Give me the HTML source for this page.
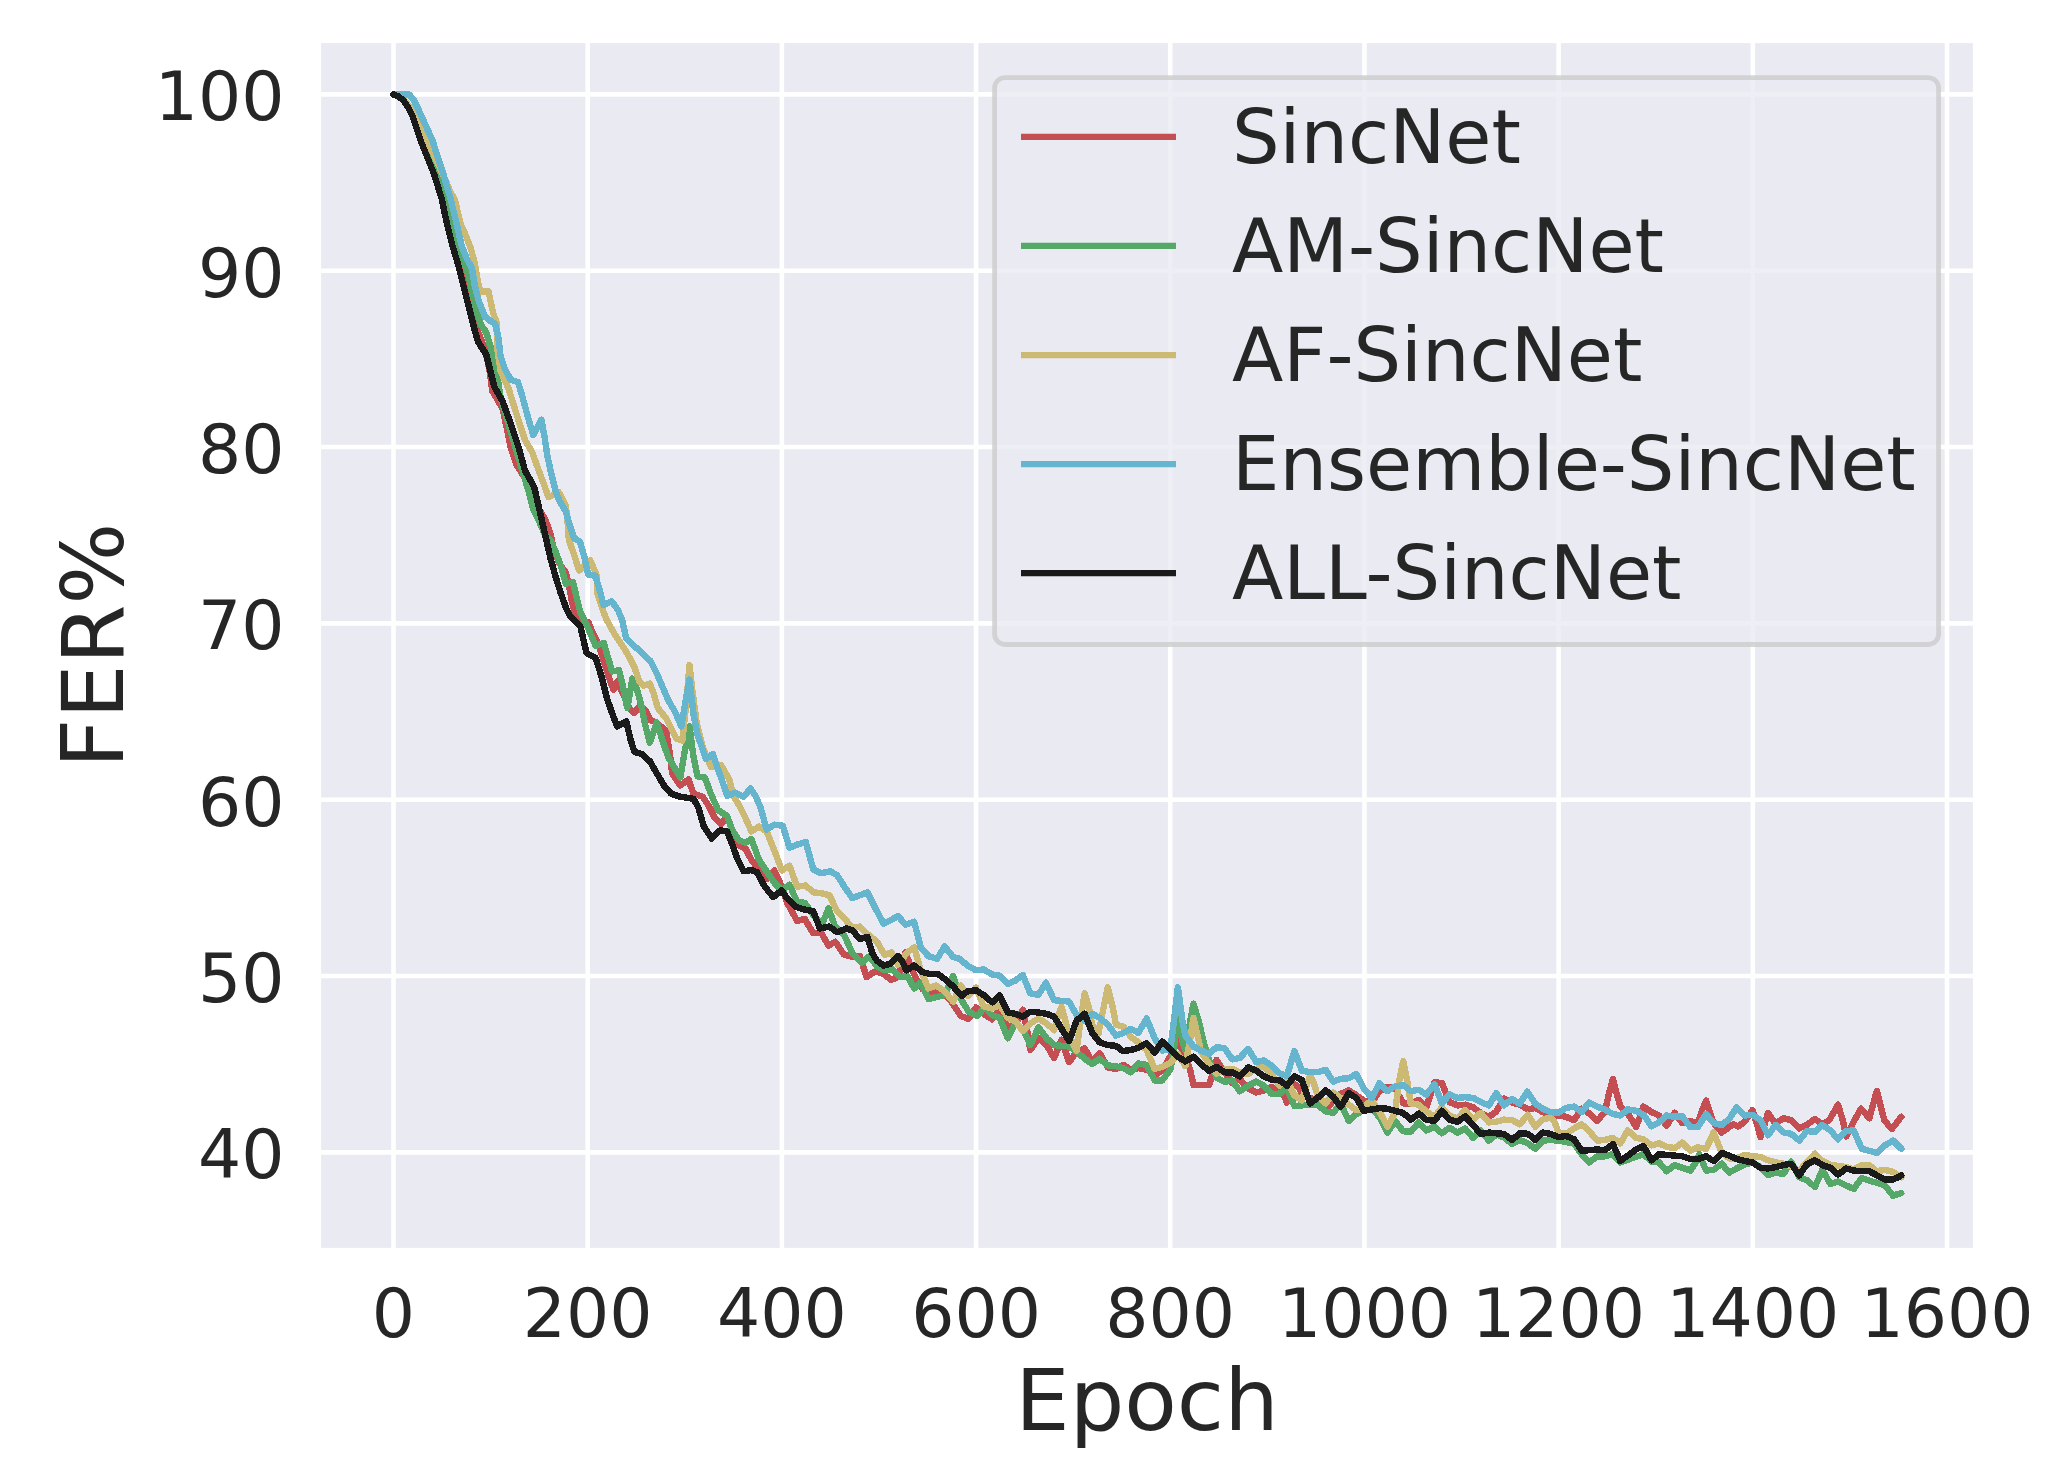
<!DOCTYPE html>
<html lang="en"><head><meta charset="utf-8"><title>FER% vs Epoch</title>
<style>
html,body{margin:0;padding:0;background:#fff;}
body{width:2069px;height:1471px;overflow:hidden;}
svg{display:block;}
text{font-family:"DejaVu Sans","Liberation Sans",sans-serif;fill:#262626;}
.tick{font-size:68px;}
.leg{font-size:75px;}
.lab{font-size:86px;}
.ln{shape-rendering:crispEdges;fill:none;stroke-width:6.45;stroke-linejoin:round;stroke-linecap:round;}
.hl{fill:none;stroke-width:6.25;stroke-linecap:butt;}
</style></head><body>
<svg width="2069" height="1471" viewBox="0 0 2069 1471">
<rect x="0" y="0" width="2069" height="1471" fill="#ffffff"/>
<rect x="321.1" y="43.1" width="1651.8" height="1204.8" fill="#eaeaf2"/>
<g stroke="#ffffff" stroke-width="4.6" stroke-linecap="butt">
<line x1="393.50" y1="43.1" x2="393.50" y2="1247.9"/>
<line x1="587.69" y1="43.1" x2="587.69" y2="1247.9"/>
<line x1="781.88" y1="43.1" x2="781.88" y2="1247.9"/>
<line x1="976.06" y1="43.1" x2="976.06" y2="1247.9"/>
<line x1="1170.25" y1="43.1" x2="1170.25" y2="1247.9"/>
<line x1="1364.44" y1="43.1" x2="1364.44" y2="1247.9"/>
<line x1="1558.62" y1="43.1" x2="1558.62" y2="1247.9"/>
<line x1="1752.81" y1="43.1" x2="1752.81" y2="1247.9"/>
<line x1="1947.00" y1="43.1" x2="1947.00" y2="1247.9"/>
<line x1="321.1" y1="1152.40" x2="1972.9" y2="1152.40"/>
<line x1="321.1" y1="976.07" x2="1972.9" y2="976.07"/>
<line x1="321.1" y1="799.73" x2="1972.9" y2="799.73"/>
<line x1="321.1" y1="623.40" x2="1972.9" y2="623.40"/>
<line x1="321.1" y1="447.07" x2="1972.9" y2="447.07"/>
<line x1="321.1" y1="270.73" x2="1972.9" y2="270.73"/>
<line x1="321.1" y1="94.40" x2="1972.9" y2="94.40"/>
</g>
<g class="tick" text-anchor="middle">
<text x="393.50" y="1336.5">0</text>
<text x="587.69" y="1336.5">200</text>
<text x="781.88" y="1336.5">400</text>
<text x="976.06" y="1336.5">600</text>
<text x="1170.25" y="1336.5">800</text>
<text x="1364.44" y="1336.5">1000</text>
<text x="1558.62" y="1336.5">1200</text>
<text x="1752.81" y="1336.5">1400</text>
<text x="1947.00" y="1336.5">1600</text>
</g>
<g class="tick" text-anchor="end">
<text x="284.5" y="1178.20">40</text>
<text x="284.5" y="1001.87">50</text>
<text x="284.5" y="825.53">60</text>
<text x="284.5" y="649.20">70</text>
<text x="284.5" y="472.87">80</text>
<text x="284.5" y="296.53">90</text>
<text x="284.5" y="120.20">100</text>
</g>
<text class="lab" text-anchor="middle" x="1147" y="1430">Epoch</text>
<text class="lab" text-anchor="middle" transform="translate(123,645.5) rotate(-90)">FER%</text>
<clipPath id="ax"><rect x="321.1" y="43.1" width="1651.8" height="1204.8"/></clipPath>
<g clip-path="url(#ax)">
<path class="ln" stroke="#c44e52" d="M393.5 94.5 L398.5 96.5 L404.0 101.0 L409.3 108.0 L413.6 116.5 L418.0 128.5 L422.5 141.5 L426.5 150.0 L437.6 174.5 L444.5 198.9 L449.0 224.0 L454.0 245.4 L460.3 265.8 L465.5 286.2 L470.8 306.5 L476.2 326.9 L480.5 338.0 L485.3 350.4 L489.6 370.8 L492.4 391.2 L502.6 408.5 L506.3 425.8 L510.8 448.2 L516.3 464.6 L526.1 479.8 L532.0 493.1 L538.1 507.4 L545.8 520.6 L550.7 534.9 L554.0 551.2 L559.3 563.4 L565.8 572.6 L568.9 584.8 L571.9 601.2 L575.0 613.4 L578.3 618.3 L588.5 622.4 L592.6 632.6 L597.7 642.8 L601.8 655.0 L608.9 677.5 L613.4 689.7 L617.1 681.5 L623.2 693.8 L629.3 708.1 L634.4 713.1 L639.5 706.0 L645.6 710.1 L650.7 720.3 L655.8 722.3 L666.0 730.5 L670.1 754.9 L672.1 773.3 L680.3 785.5 L688.4 779.4 L693.5 793.7 L702.7 796.7 L708.8 805.9 L714.9 818.1 L721.1 824.3 L727.2 816.1 L737.4 844.6 L745.5 848.7 L751.4 859.9 L759.0 869.5 L766.6 879.0 L774.3 870.4 L780.9 884.7 L787.6 903.7 L797.1 920.8 L804.7 918.9 L813.3 933.2 L820.9 932.3 L828.5 945.6 L835.2 941.8 L843.7 954.2 L852.3 957.0 L859.9 956.1 L866.6 977.0 L875.1 971.3 L883.7 974.1 L891.3 979.9 L898.0 977.0 L901.8 962.7 L905.6 952.3 L911.3 968.4 L917.0 979.9 L922.7 989.4 L930.3 993.2 L939.9 989.4 L949.4 998.9 L957.0 1010.3 L960.8 1016.0 L968.4 1018.9 L976.0 1007.5 L985.5 1015.1 L992.2 1019.3 L999.7 1008.4 L1007.9 1027.4 L1015.4 1024.7 L1022.8 1009.8 L1026.9 1028.8 L1030.3 1049.9 L1038.5 1038.3 L1046.6 1045.1 L1054.1 1058.0 L1061.6 1039.7 L1069.1 1062.1 L1076.6 1051.9 L1084.7 1048.5 L1092.2 1061.4 L1099.7 1053.3 L1107.8 1067.5 L1116.0 1068.9 L1123.5 1064.8 L1130.9 1069.6 L1138.4 1068.2 L1146.6 1069.6 L1154.7 1075.0 L1162.2 1070.9 L1170.4 1056.0 L1177.9 1041.0 L1185.3 1057.3 L1190.1 1069.6 L1193.5 1085.2 L1201.0 1085.2 L1209.1 1085.2 L1216.6 1060.1 L1224.8 1072.3 L1232.3 1083.2 L1239.7 1079.1 L1248.2 1088.4 L1256.3 1092.5 L1263.8 1090.4 L1271.3 1087.0 L1275.4 1088.4 L1279.4 1087.0 L1282.8 1092.5 L1286.9 1102.7 L1290.3 1092.5 L1294.4 1084.3 L1298.5 1087.0 L1301.9 1093.8 L1310.0 1097.9 L1317.5 1100.0 L1325.7 1104.0 L1329.1 1106.1 L1333.2 1100.6 L1340.6 1093.8 L1348.8 1090.4 L1356.3 1095.2 L1363.7 1100.6 L1371.9 1102.0 L1379.4 1091.1 L1387.5 1087.0 L1395.0 1088.4 L1403.2 1103.4 L1410.7 1103.4 L1418.8 1100.0 L1426.3 1107.4 L1434.5 1082.3 L1441.9 1083.0 L1449.4 1102.0 L1457.6 1105.4 L1465.1 1104.7 L1473.2 1107.4 L1480.7 1112.9 L1488.9 1116.9 L1496.3 1111.5 L1503.8 1098.6 L1512.2 1102.6 L1519.7 1104.6 L1527.9 1109.4 L1535.4 1108.0 L1542.8 1112.1 L1550.3 1114.8 L1558.5 1115.5 L1566.0 1116.8 L1574.1 1120.2 L1581.6 1108.7 L1589.1 1113.4 L1597.2 1120.9 L1604.7 1112.1 L1608.8 1094.4 L1612.9 1078.8 L1616.9 1094.4 L1620.3 1106.6 L1627.8 1113.4 L1636.0 1127.0 L1640.1 1116.2 L1643.5 1106.6 L1651.6 1112.1 L1659.1 1115.5 L1666.6 1125.7 L1674.7 1112.8 L1682.2 1123.0 L1690.4 1120.9 L1697.9 1123.6 L1701.9 1110.7 L1706.1 1100.5 L1713.6 1123.0 L1721.8 1132.5 L1729.2 1127.0 L1733.3 1124.3 L1738.1 1126.4 L1744.9 1121.6 L1752.4 1110.0 L1757.1 1124.3 L1760.5 1137.2 L1764.6 1124.3 L1768.0 1112.8 L1775.5 1123.6 L1783.6 1118.2 L1791.1 1120.2 L1799.3 1128.4 L1806.8 1125.0 L1814.9 1118.9 L1822.4 1124.3 L1829.2 1120.2 L1838.0 1104.6 L1842.8 1120.2 L1846.2 1136.6 L1853.7 1121.6 L1861.1 1108.7 L1869.3 1118.2 L1876.8 1091.0 L1884.3 1120.2 L1891.7 1129.1 L1896.5 1123.0 L1901.3 1116.8"/>
<path class="ln" stroke="#55a868" d="M393.5 94.5 L399.0 96.5 L404.5 101.0 L410.0 108.5 L414.5 117.0 L419.0 129.0 L423.5 142.0 L427.0 150.0 L437.0 174.5 L446.3 198.9 L452.0 224.0 L457.5 245.4 L463.6 260.7 L468.7 276.0 L472.8 296.4 L476.9 311.6 L481.0 324.9 L486.1 332.0 L490.4 346.3 L496.5 370.8 L500.6 397.3 L504.7 411.5 L510.8 431.9 L516.9 452.3 L523.0 472.7 L529.1 493.1 L533.2 509.4 L539.3 521.6 L545.4 535.9 L551.5 542.0 L556.6 554.3 L561.7 568.5 L565.8 583.8 L573.0 581.8 L577.0 599.1 L580.4 612.2 L586.5 624.5 L592.6 638.7 L595.7 645.9 L603.8 642.8 L607.9 657.1 L612.0 671.4 L619.1 670.3 L623.2 687.7 L627.3 708.1 L632.4 678.5 L636.5 687.7 L640.5 701.9 L644.6 722.3 L649.7 742.7 L656.8 722.3 L661.9 738.6 L668.1 757.0 L674.2 767.2 L680.3 777.4 L684.4 752.9 L689.5 726.4 L693.5 757.0 L697.6 776.4 L704.8 777.4 L710.9 793.7 L718.0 810.0 L727.2 816.1 L732.3 830.4 L739.4 840.6 L745.5 842.6 L751.4 839.0 L759.0 859.9 L766.6 871.4 L774.3 882.8 L781.9 890.4 L789.5 884.7 L797.1 901.8 L804.7 902.8 L813.3 915.1 L821.8 924.7 L828.5 908.5 L835.2 926.6 L844.7 936.1 L852.3 953.2 L861.8 962.7 L869.4 956.1 L877.0 966.5 L884.7 970.3 L892.3 969.4 L899.9 977.0 L907.5 976.0 L914.2 988.4 L920.8 982.7 L928.4 998.9 L937.0 997.0 L944.6 995.1 L953.2 976.0 L960.8 998.9 L968.4 1011.3 L977.0 1016.0 L984.6 1007.5 L992.2 1015.2 L999.7 1017.9 L1007.9 1038.3 L1015.4 1023.4 L1022.8 1028.8 L1030.3 1045.1 L1038.5 1027.4 L1046.6 1038.3 L1054.1 1045.1 L1061.6 1045.8 L1069.1 1046.5 L1076.6 1051.9 L1084.7 1058.7 L1092.2 1064.1 L1099.7 1058.7 L1107.8 1065.5 L1116.0 1066.2 L1123.5 1068.2 L1130.9 1072.3 L1138.4 1063.5 L1146.6 1064.8 L1154.7 1080.5 L1162.2 1080.5 L1170.4 1069.6 L1173.8 1049.2 L1177.9 1017.9 L1182.6 1042.4 L1185.3 1050.5 L1190.1 1022.0 L1193.5 1003.6 L1198.9 1022.0 L1204.4 1045.1 L1209.1 1060.1 L1216.6 1077.7 L1224.8 1081.8 L1232.3 1080.5 L1239.7 1091.3 L1248.2 1085.7 L1256.3 1081.6 L1263.8 1085.7 L1271.3 1093.8 L1279.4 1093.8 L1286.9 1088.4 L1294.4 1106.1 L1301.9 1105.4 L1310.0 1104.7 L1317.5 1104.7 L1325.7 1111.5 L1333.2 1112.9 L1340.6 1103.4 L1348.8 1121.0 L1356.3 1114.2 L1363.7 1110.2 L1371.9 1107.4 L1380.1 1118.3 L1387.5 1132.6 L1395.0 1121.0 L1403.2 1131.2 L1410.7 1131.9 L1418.8 1122.4 L1426.3 1130.5 L1434.5 1126.5 L1441.9 1133.3 L1449.4 1127.8 L1457.6 1132.6 L1465.1 1128.5 L1473.2 1138.0 L1480.7 1130.5 L1488.9 1140.7 L1496.3 1134.6 L1503.8 1137.3 L1512.2 1144.0 L1519.7 1140.0 L1527.9 1143.4 L1535.4 1148.8 L1542.8 1140.6 L1550.3 1140.0 L1558.5 1140.6 L1566.0 1142.0 L1574.1 1143.4 L1581.6 1154.2 L1589.1 1162.4 L1597.2 1156.3 L1604.7 1156.3 L1612.9 1154.2 L1620.3 1162.4 L1627.8 1159.7 L1636.0 1156.9 L1643.5 1154.2 L1651.6 1161.7 L1659.1 1162.4 L1666.6 1171.2 L1674.7 1165.1 L1682.2 1167.8 L1690.4 1170.5 L1695.8 1162.4 L1699.2 1154.2 L1706.1 1170.5 L1713.6 1169.9 L1721.8 1163.7 L1729.2 1172.6 L1736.7 1168.5 L1744.9 1164.4 L1752.4 1162.4 L1760.5 1167.1 L1768.0 1175.3 L1775.5 1172.6 L1783.6 1173.9 L1791.1 1161.7 L1799.3 1177.3 L1806.8 1180.1 L1814.9 1186.9 L1822.4 1169.9 L1830.5 1184.1 L1838.0 1181.4 L1846.2 1185.5 L1853.7 1188.9 L1861.8 1178.0 L1869.3 1180.7 L1876.8 1182.8 L1884.9 1185.5 L1893.1 1195.7 L1901.3 1193.0"/>
<path class="ln" stroke="#ccb974" d="M393.5 94.5 L400.0 97.0 L406.0 102.0 L412.0 110.0 L417.0 120.0 L422.0 132.0 L427.0 143.0 L431.6 150.0 L438.5 165.0 L445.7 180.6 L449.4 189.8 L455.2 200.8 L460.4 223.4 L465.7 235.2 L470.8 248.4 L474.9 263.7 L477.9 282.1 L480.5 292.3 L484.0 291.3 L488.6 291.3 L491.2 304.5 L494.2 316.7 L496.3 320.8 L497.5 350.4 L500.6 370.8 L508.7 389.1 L513.8 405.4 L518.9 421.7 L525.0 440.1 L532.2 452.3 L537.3 466.6 L543.4 482.9 L548.5 497.2 L558.7 492.1 L565.8 505.3 L567.9 525.7 L568.9 540.0 L574.0 554.3 L579.1 570.6 L590.3 560.4 L596.4 574.6 L597.4 593.0 L602.5 609.3 L606.9 620.4 L615.0 634.7 L623.2 646.9 L629.3 657.1 L634.4 667.3 L639.5 681.5 L643.6 685.6 L649.7 683.6 L653.8 693.8 L657.9 708.1 L666.0 718.2 L671.1 728.4 L676.2 738.6 L682.3 740.7 L686.4 701.9 L689.5 665.2 L692.5 691.7 L696.6 722.3 L702.7 746.8 L710.9 767.2 L721.1 765.1 L729.2 779.4 L733.3 795.7 L739.4 805.9 L745.5 818.1 L751.4 831.4 L759.0 826.6 L766.6 831.4 L774.3 850.4 L781.9 870.4 L789.5 865.7 L797.1 886.6 L805.7 885.6 L813.3 892.3 L821.8 893.3 L829.5 895.2 L837.1 911.3 L844.7 918.9 L852.3 927.5 L859.9 926.6 L867.5 934.2 L877.0 941.8 L884.7 955.1 L891.3 952.3 L898.0 964.6 L906.5 953.2 L914.2 947.5 L920.8 970.3 L928.4 988.4 L936.0 985.6 L944.6 991.3 L953.2 1001.7 L960.8 985.6 L968.4 996.0 L976.0 987.5 L983.6 1006.5 L992.2 1008.4 L999.7 1005.0 L1007.9 1017.9 L1015.4 1021.3 L1022.8 1030.8 L1030.3 1023.4 L1038.5 1018.6 L1046.6 1023.4 L1054.1 1030.2 L1058.2 1015.2 L1061.6 1007.0 L1065.7 1022.0 L1069.1 1035.6 L1076.6 1050.5 L1081.3 1015.2 L1084.7 993.4 L1088.8 1007.0 L1092.2 1024.7 L1098.3 1034.2 L1103.7 1007.0 L1107.8 987.3 L1112.6 1007.0 L1116.0 1024.7 L1123.5 1026.8 L1130.9 1036.9 L1138.4 1042.4 L1146.6 1049.9 L1154.7 1068.9 L1162.2 1066.9 L1170.4 1062.8 L1177.9 1053.9 L1185.3 1066.2 L1190.1 1039.7 L1193.5 1017.9 L1197.6 1035.6 L1201.0 1051.9 L1209.1 1064.1 L1216.6 1073.7 L1224.8 1069.6 L1232.3 1068.9 L1239.7 1072.3 L1248.2 1074.1 L1256.3 1068.7 L1263.8 1066.6 L1271.3 1074.1 L1279.4 1085.7 L1286.9 1080.2 L1294.4 1095.2 L1301.9 1100.6 L1306.0 1087.0 L1310.0 1075.5 L1313.4 1081.6 L1317.5 1095.2 L1325.7 1103.4 L1333.2 1092.5 L1340.6 1097.9 L1348.8 1104.7 L1356.3 1110.2 L1363.7 1108.8 L1367.8 1103.4 L1371.9 1100.6 L1380.1 1112.9 L1387.5 1126.5 L1395.0 1112.9 L1399.1 1081.6 L1403.2 1061.2 L1407.3 1081.6 L1410.7 1103.4 L1418.8 1104.7 L1426.3 1111.5 L1434.5 1116.9 L1441.9 1107.4 L1449.4 1115.6 L1457.6 1118.3 L1465.1 1110.2 L1473.2 1119.7 L1480.7 1112.9 L1488.9 1122.4 L1496.3 1121.7 L1503.8 1119.7 L1512.2 1120.2 L1519.7 1124.3 L1527.9 1114.8 L1535.4 1127.0 L1542.8 1119.6 L1550.3 1117.5 L1554.4 1121.6 L1558.5 1132.5 L1566.0 1133.8 L1574.1 1128.4 L1581.6 1124.3 L1589.1 1131.1 L1597.2 1140.6 L1604.7 1140.0 L1612.9 1137.9 L1620.3 1143.4 L1627.8 1130.4 L1636.0 1137.9 L1643.5 1139.3 L1651.6 1145.4 L1659.1 1143.4 L1666.6 1146.8 L1674.7 1148.1 L1682.2 1142.7 L1690.4 1150.8 L1697.9 1147.4 L1706.1 1148.8 L1713.6 1132.5 L1721.8 1152.9 L1729.2 1158.3 L1736.7 1158.3 L1744.9 1154.9 L1752.4 1156.3 L1760.5 1156.9 L1768.0 1160.3 L1775.5 1162.4 L1783.6 1163.7 L1791.1 1166.5 L1799.3 1170.5 L1806.8 1162.4 L1814.9 1153.6 L1822.4 1161.0 L1830.5 1165.1 L1838.0 1165.8 L1846.2 1167.1 L1853.7 1169.2 L1861.8 1165.1 L1869.3 1165.1 L1876.8 1171.2 L1884.9 1169.9 L1893.1 1171.9 L1901.3 1177.3"/>
<path class="ln" stroke="#64b5cd" d="M393.5 94.5 L409.4 94.7 L413.4 99.3 L417.5 107.4 L422.6 118.6 L427.7 129.9 L432.8 141.1 L435.3 150.0 L443.5 174.5 L450.6 198.9 L456.7 224.0 L461.6 245.4 L466.7 258.6 L471.8 267.8 L474.9 286.2 L478.9 301.5 L485.0 316.7 L490.1 320.8 L495.2 323.9 L498.3 337.1 L500.6 356.5 L504.7 368.7 L510.8 379.9 L517.9 382.0 L522.0 395.2 L528.1 417.7 L533.2 435.0 L541.4 419.7 L544.4 436.0 L547.5 456.4 L551.5 474.8 L555.6 491.1 L559.7 501.3 L565.8 511.4 L569.9 525.7 L574.0 538.0 L580.1 542.0 L584.2 556.3 L588.2 574.6 L595.4 575.7 L600.5 593.0 L603.5 605.2 L611.7 601.2 L618.1 610.2 L622.2 620.4 L626.3 638.7 L637.5 648.9 L650.7 661.2 L656.8 673.4 L661.9 685.6 L668.1 699.9 L675.2 712.1 L681.3 726.4 L685.4 701.9 L689.5 679.5 L693.5 714.2 L697.6 734.6 L705.8 759.0 L712.9 753.9 L718.0 769.2 L723.1 783.5 L727.2 795.7 L735.3 792.7 L743.5 796.7 L750.5 788.6 L756.2 797.1 L760.9 808.6 L766.6 829.5 L774.3 824.7 L782.8 825.7 L789.5 847.6 L797.1 844.7 L805.7 841.9 L813.3 869.5 L820.9 873.3 L830.4 871.4 L837.1 875.2 L845.6 888.5 L852.3 898.0 L859.9 895.2 L867.5 892.3 L877.0 911.3 L883.7 923.7 L891.3 919.9 L898.0 916.1 L905.6 924.7 L914.2 921.8 L920.8 947.5 L928.4 956.1 L937.0 958.9 L944.6 946.5 L953.2 957.0 L959.8 958.9 L967.5 965.6 L976.0 970.3 L983.6 969.4 L992.2 974.4 L999.7 975.8 L1007.9 983.9 L1015.4 980.5 L1022.8 975.1 L1030.3 993.4 L1038.5 994.8 L1046.0 982.6 L1054.1 1000.2 L1061.6 1000.9 L1069.1 1001.6 L1076.6 1015.2 L1084.7 1020.6 L1092.2 1013.8 L1099.7 1017.9 L1107.8 1024.7 L1116.0 1035.6 L1123.5 1032.9 L1130.9 1028.8 L1138.4 1032.9 L1146.6 1018.6 L1154.7 1038.3 L1162.2 1050.5 L1170.4 1049.2 L1173.8 1022.0 L1177.9 987.3 L1182.6 1022.0 L1185.3 1035.6 L1193.5 1046.5 L1201.0 1050.5 L1209.1 1053.9 L1216.6 1047.1 L1224.8 1048.5 L1232.3 1059.4 L1239.7 1058.0 L1248.2 1049.0 L1256.3 1061.9 L1263.8 1060.5 L1271.3 1065.3 L1279.4 1073.4 L1286.9 1076.2 L1294.4 1051.0 L1301.9 1070.7 L1310.0 1072.1 L1317.5 1072.1 L1325.7 1070.0 L1333.2 1081.6 L1340.6 1078.9 L1348.8 1078.2 L1356.3 1074.1 L1363.7 1088.4 L1371.9 1097.9 L1379.4 1083.0 L1387.5 1091.1 L1395.0 1086.4 L1403.2 1085.0 L1410.7 1091.1 L1418.8 1089.8 L1426.3 1094.5 L1434.5 1084.3 L1441.9 1103.4 L1449.4 1094.5 L1457.6 1097.9 L1465.1 1097.2 L1473.2 1097.9 L1480.7 1102.0 L1488.9 1105.4 L1496.3 1093.2 L1503.8 1105.4 L1512.2 1099.2 L1519.7 1103.9 L1527.2 1091.7 L1535.4 1103.9 L1542.8 1108.7 L1550.3 1112.1 L1558.5 1112.8 L1566.0 1108.0 L1574.1 1106.6 L1581.6 1112.1 L1589.1 1102.6 L1597.2 1106.6 L1604.7 1109.4 L1612.9 1114.1 L1620.3 1115.5 L1627.8 1109.4 L1636.0 1110.7 L1643.5 1114.8 L1651.6 1126.4 L1659.1 1122.3 L1666.6 1115.5 L1674.7 1116.8 L1682.2 1116.2 L1690.4 1127.0 L1697.9 1127.0 L1706.1 1114.1 L1713.6 1123.0 L1721.8 1125.0 L1729.2 1118.9 L1736.7 1107.3 L1744.9 1115.5 L1752.4 1114.8 L1760.5 1120.2 L1768.0 1135.2 L1775.5 1125.0 L1783.6 1132.5 L1791.1 1133.8 L1799.3 1140.6 L1806.8 1131.1 L1814.9 1131.8 L1822.4 1125.0 L1830.5 1130.4 L1838.0 1139.3 L1846.2 1131.1 L1853.7 1130.4 L1861.8 1148.8 L1869.3 1150.8 L1876.8 1152.9 L1884.9 1145.4 L1893.1 1140.6 L1901.3 1148.8"/>
<path class="ln" stroke="#1a1a1a" d="M393.5 94.5 L398.2 96.2 L403.3 100.3 L408.3 107.4 L412.4 115.6 L416.5 127.8 L420.8 141.0 L424.4 150.0 L434.2 174.5 L441.7 198.9 L447.0 224.0 L452.4 245.4 L458.5 265.8 L463.6 286.2 L468.7 306.5 L473.8 326.9 L478.2 342.2 L486.3 354.5 L490.4 370.8 L494.5 387.1 L502.6 401.4 L510.8 423.8 L518.9 448.2 L525.0 470.7 L534.2 487.0 L540.3 513.5 L545.4 535.9 L550.5 558.3 L555.6 576.7 L560.7 593.0 L565.8 607.3 L570.2 616.3 L580.4 626.5 L586.5 653.0 L595.7 658.1 L601.8 677.5 L606.9 697.9 L611.0 710.1 L617.1 726.4 L626.3 721.3 L630.3 738.6 L634.4 751.9 L641.5 753.9 L649.7 761.1 L656.8 773.3 L664.0 785.5 L671.1 793.7 L680.3 796.7 L693.5 798.8 L698.6 808.0 L703.7 826.3 L711.9 838.5 L720.0 830.4 L727.2 831.4 L732.3 844.6 L737.4 858.9 L743.5 871.2 L751.6 870.1 L757.1 872.3 L764.7 886.6 L773.3 897.1 L781.9 890.4 L787.6 899.0 L795.2 906.6 L803.8 909.4 L813.3 911.3 L819.9 928.5 L829.5 926.6 L837.1 932.3 L846.6 928.5 L852.3 930.4 L859.9 938.9 L867.5 937.0 L872.3 953.2 L877.0 960.8 L883.7 965.6 L890.4 963.7 L898.0 956.1 L901.8 960.8 L906.5 970.3 L914.2 965.6 L922.7 972.2 L930.3 974.1 L938.0 974.1 L944.6 978.9 L953.2 986.5 L961.7 996.0 L967.5 991.3 L976.0 990.3 L983.6 995.1 L992.2 1002.3 L999.7 995.5 L1007.9 1012.5 L1015.4 1013.8 L1022.8 1016.6 L1030.3 1011.8 L1038.5 1012.5 L1046.6 1013.8 L1054.1 1016.6 L1061.6 1028.8 L1069.1 1041.0 L1076.6 1020.6 L1084.7 1013.8 L1092.2 1032.9 L1099.7 1042.4 L1107.8 1045.1 L1116.0 1045.8 L1122.8 1051.2 L1130.9 1049.9 L1138.4 1047.8 L1146.6 1043.1 L1154.7 1052.6 L1162.2 1041.7 L1170.4 1049.2 L1177.9 1056.7 L1185.3 1061.4 L1193.5 1056.7 L1201.0 1064.1 L1209.1 1070.9 L1216.6 1066.9 L1224.8 1072.3 L1232.3 1072.3 L1239.7 1076.4 L1248.2 1067.3 L1256.3 1070.7 L1263.8 1076.2 L1271.3 1079.6 L1279.4 1080.2 L1286.9 1085.7 L1294.4 1076.2 L1301.9 1080.2 L1310.0 1103.4 L1317.5 1097.9 L1325.7 1090.4 L1333.2 1096.6 L1340.6 1106.8 L1348.8 1093.2 L1356.3 1097.9 L1363.7 1110.8 L1371.9 1109.5 L1380.1 1108.1 L1387.5 1108.8 L1395.0 1110.8 L1403.2 1112.9 L1410.7 1119.7 L1418.8 1113.6 L1426.3 1119.7 L1434.5 1121.0 L1441.9 1110.8 L1449.4 1119.7 L1457.6 1121.7 L1465.1 1116.3 L1473.2 1125.1 L1480.7 1133.9 L1488.9 1132.6 L1496.3 1133.3 L1503.8 1133.9 L1512.2 1140.0 L1519.7 1133.2 L1527.9 1133.8 L1535.4 1140.0 L1542.8 1132.5 L1550.3 1133.8 L1558.5 1137.2 L1566.0 1135.9 L1574.1 1139.3 L1581.6 1150.8 L1589.1 1150.2 L1597.2 1149.5 L1604.7 1150.2 L1612.9 1144.0 L1620.3 1161.0 L1627.8 1155.6 L1636.0 1149.5 L1643.5 1146.1 L1651.6 1160.3 L1659.1 1154.2 L1666.6 1154.9 L1674.7 1155.6 L1682.2 1156.3 L1690.4 1159.0 L1697.9 1159.0 L1706.1 1156.3 L1713.6 1161.0 L1721.8 1152.9 L1729.2 1155.6 L1736.7 1159.0 L1744.9 1161.0 L1752.4 1162.4 L1760.5 1167.8 L1768.0 1168.5 L1775.5 1167.1 L1783.6 1165.1 L1791.1 1163.7 L1799.3 1175.3 L1806.8 1164.4 L1814.9 1160.3 L1822.4 1165.1 L1830.5 1167.8 L1838.0 1174.6 L1846.2 1168.5 L1853.7 1170.5 L1861.8 1171.2 L1869.3 1171.2 L1876.8 1175.3 L1884.9 1179.4 L1893.1 1179.4 L1897.9 1177.3 L1901.3 1175.3"/>
</g>
<rect x="994.6" y="77.6" width="944.0" height="566.9" rx="10.5" ry="10.5" fill="#eaeaf2" fill-opacity="0.8" stroke="#cccccc" stroke-opacity="0.8" stroke-width="4.8"/>
<line class="hl" stroke="#c44e52" x1="1021" y1="136.9" x2="1176" y2="136.9"/>
<text class="leg" x="1232" y="163.2">SincNet</text>
<line class="hl" stroke="#55a868" x1="1021" y1="245.9" x2="1176" y2="245.9"/>
<text class="leg" x="1232" y="272.2">AM-SincNet</text>
<line class="hl" stroke="#ccb974" x1="1021" y1="355.0" x2="1176" y2="355.0"/>
<text class="leg" x="1232" y="381.2">AF-SincNet</text>
<line class="hl" stroke="#64b5cd" x1="1021" y1="464.0" x2="1176" y2="464.0"/>
<text class="leg" x="1232" y="490.2">Ensemble-SincNet</text>
<line class="hl" stroke="#1a1a1a" x1="1021" y1="573.1" x2="1176" y2="573.1"/>
<text class="leg" x="1232" y="599.2">ALL-SincNet</text>
</svg></body></html>
